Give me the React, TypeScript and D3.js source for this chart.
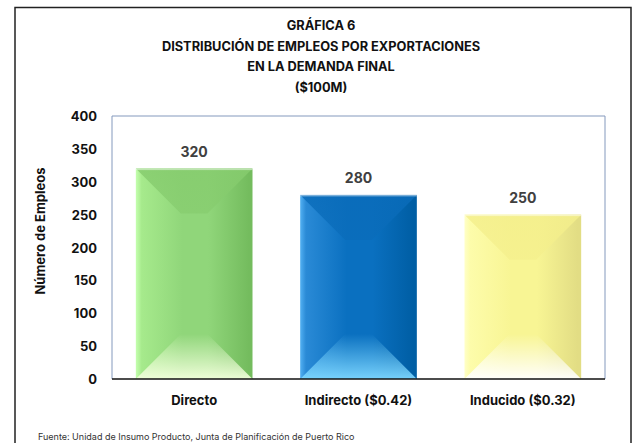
import React from "react";
import * as d3 from "d3";

const categories = ["Directo", "Indirecto ($0.42)", "Inducido ($0.32)"];
const values = [320, 280, 250];
const yTicks = [0, 50, 100, 150, 200, 250, 300, 350, 400];
const titleLines = [
  "GRÁFICA 6",
  "DISTRIBUCIÓN DE EMPLEOS POR EXPORTACIONES",
  "EN LA DEMANDA FINAL",
  "($100M)",
];
const yTitle = "Número de Empleos";
const source = "Fuente: Unidad de Insumo Producto, Junta de Planificación de Puerto Rico";

const palettes = [
  { edge: "#c4ffae", left: "#a6ea8c", mid: "#90d67a", right: "#74bc5e", bottom: "#f2ffdc", top: "#86cc6e" },
  { edge: "#52b0f2", left: "#2a8ad6", mid: "#0a70c0", right: "#005ea4", bottom: "#7cd6ff", top: "#0a6cba" },
  { edge: "#ffffc8", left: "#fdfcaa", mid: "#f8f594", right: "#e2dd84", bottom: "#ffffff", top: "#f4ef8c" },
];

const FONT = "Inter, 'Open Sans', sans-serif";

export default function App() {
  const W = 634, H = 443;
  const left = 112, right = 605, top = 116, bottom = 379;
  const x = d3.scaleBand<string>().domain(categories).range([left, right]).paddingInner(0.29).paddingOuter(0.145);
  const y = d3.scaleLinear().domain([0, 400]).range([bottom, top]);
  const bw = x.bandwidth();

  return (
    <svg width={W} height={H} style={{ position: "absolute", left: 0, top: 0 }}>
      <defs>
        {palettes.map((p, i) => (
          <React.Fragment key={i}>
            <linearGradient id={`h${i}`} x1="0" x2="1" y1="0" y2="0">
              <stop offset="0" stopColor={p.edge} />
              <stop offset="0.05" stopColor={p.left} />
              <stop offset="0.4" stopColor={p.mid} />
              <stop offset="0.62" stopColor={p.mid} />
              <stop offset="0.97" stopColor={p.right} />
              <stop offset="1" stopColor={p.right} />
            </linearGradient>
            <linearGradient id={`b${i}`} x1="0" x2="0" y1="0" y2="1">
              <stop offset="0" stopColor={p.bottom} stopOpacity="0" />
              <stop offset="1" stopColor={p.bottom} stopOpacity="0.95" />
            </linearGradient>
            <linearGradient id={`t${i}`} x1="0" x2="0" y1="0" y2="1">
              <stop offset="0" stopColor={p.top} stopOpacity="0.85" />
              <stop offset="1" stopColor={p.top} stopOpacity="0.7" />
            </linearGradient>
          </React.Fragment>
        ))}
      </defs>
      <rect x={0} y={0} width={W} height={H} fill="#fff" />
      <rect x={15} y={7.5} width={616} height={450} fill="#fff" stroke="#222" strokeWidth={1.5} />
      {titleLines.map((t, i) => (
        <text key={i} x={321} y={30 + i * 20.5} textAnchor="middle" fontFamily={FONT} fontWeight={700} fontSize={12.8} fill="#111">
          {t}
        </text>
      ))}
      <polyline points={`${left},${bottom} ${left},${top} ${right},${top} ${right},${bottom}`} fill="none" stroke="#8499bd" strokeWidth={1} />
      {categories.map((c, i) => {
        const bx = x(c)!;
        const by = y(values[i]);
        const bh = bottom - by;
        const d = Math.min(45, bh / 2);
        return (
          <g key={c}>
            <rect x={bx} y={by} width={bw} height={bh} fill={`url(#h${i})`} />
            <path d={`M${bx},${by} L${bx + bw},${by} L${bx + bw - d},${by + d} L${bx + d},${by + d} Z`} fill={`url(#t${i})`} />
            <path d={`M${bx},${bottom} L${bx + d},${bottom - d} L${bx + bw - d},${bottom - d} L${bx + bw},${bottom} Z`} fill={`url(#b${i})`} />
            <rect x={bx} y={by} width={bw} height={1.5} fill="#fff" opacity={0.45} />
            <text x={bx + bw / 2} y={by - 12} textAnchor="middle" fontFamily={FONT} fontWeight={700} fontSize={14} fill="#404040">
              {values[i]}
            </text>
            <text x={bx + bw / 2} y={405} textAnchor="middle" fontFamily={FONT} fontWeight={700} fontSize={13} fill="#111">
              {c}
            </text>
          </g>
        );
      })}
      <line x1={left} x2={right} y1={bottom} y2={bottom} stroke="#111" strokeWidth={1.5} />
      {yTicks.map((t) => (
        <text key={t} x={97} y={y(t) + 5} textAnchor="end" fontFamily={FONT} fontWeight={700} fontSize={13} fill="#111">
          {t}
        </text>
      ))}
      <text transform={`translate(45,231) rotate(-90)`} textAnchor="middle" fontFamily={FONT} fontWeight={700} fontSize={13} fill="#111">
        {yTitle}
      </text>
      <text x={38} y={440} fontFamily={FONT} fontSize={9} fill="#333">
        {source}
      </text>
    </svg>
  );
}
